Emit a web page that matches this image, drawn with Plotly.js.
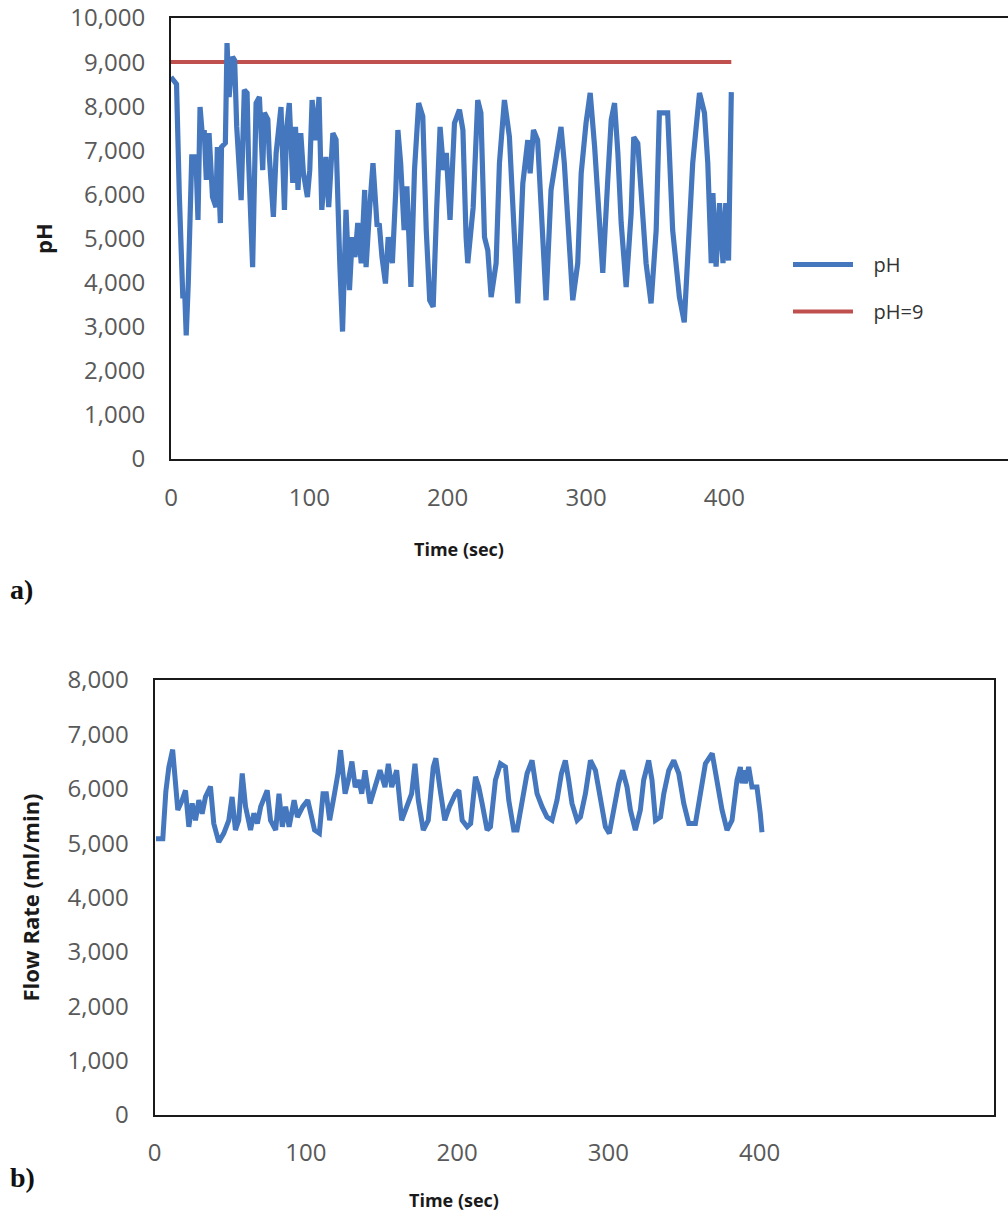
<!DOCTYPE html>
<html>
<head>
<meta charset="utf-8">
<script src="https://cdn.plot.ly/plotly-3.0.1.min.js"></script>
<style>html,body{margin:0;padding:0;background:#fff;}#chart{width:1008px;height:1222px;}</style>
</head>
<body>
<div id="chart"></div>
<script>
// ---- chart a) pH vs time ----
const phTime = [0,2.5,4,6,8.5,10,11,12.5,14,15,18,19.5,21,22.5,24,25.5,27.5,30,32.5,33.5,35.7,36.5,39.3,40.5,42,44.5,46,47.5,50.7,53,55,56,59,61.5,63.9,66.3,67.5,70,71,74,76,79.5,82,83.5,85.5,88,90,91.8,93.8,95.7,98.6,100.3,102,104.5,107,109,112,114,117,119.3,122,124,126.5,129,131,133,135,137.5,140,141,143.5,146,149,150.5,152.5,155,157,160,162.5,164,166,168.5,170.5,173.4,176,179,182,184.5,187,189.5,192,194.5,197,199,201.7,204.9,208.5,211,213.3,214.5,218.4,221.7,224,226.6,229,231.4,235,237.4,241,244.6,247,250.7,254.3,257.9,259.6,262,265,268.7,271.1,274.7,278.3,281.9,284.3,286.7,290.4,294,296.5,300,303,306.2,309.8,312.1,315.7,318.2,320.6,323,325.4,329,332.6,334.5,337.4,339.8,343.4,347,350.7,353,359,362.6,367.5,371,373.5,377.1,382,385.6,388,390.5,391.7,394,396.5,399,401,403,405];
const phValue = [8660,8550,8500,6000,3700,3700,2800,4000,6500,6850,6850,5420,7980,7400,7460,6330,7390,5940,5710,7075,5350,7075,7165,9430,8210,9120,9040,7530,5870,8370,8300,6850,4350,8070,8210,6550,7850,7700,6900,5490,6940,7980,5650,7460,8070,6260,7530,6100,7390,6485,5940,6550,8140,7230,8210,5650,6850,5710,7390,7240,4440,2890,5650,3830,5030,4580,5350,4440,6100,4350,5650,6710,5270,5340,4580,3980,5030,4440,6100,7460,6710,5190,6180,3900,6550,8070,7770,5190,3600,3450,5650,7530,6550,6940,5420,7620,7920,7460,5030,4440,5700,8140,7850,5030,4730,3670,4440,6710,8140,7310,5800,3530,6250,7230,6480,7460,7230,4810,3600,6100,6850,7530,6710,5500,3600,4440,6480,7620,8300,7080,5190,4220,6330,7690,8070,6940,5350,3900,5570,7300,7160,5950,4440,3530,5190,7850,7850,5190,3670,3100,4440,6710,8300,7850,6710,4440,6030,4360,5800,4440,5800,4500,8320];
const limitTime = [0, 405];
const limitValue = [9000, 9000];
const seriesNames = ["pH", "pH=9"];

// ---- chart b) flow rate vs time ----
const flowTime = [1,5.5,7.5,9.5,12,14,15.4,18.3,20.5,22.7,24.9,27.1,29.3,31.5,33.7,37,39.2,42.5,45.8,49.1,51.3,53.5,55.7,58,60.2,63.5,65.7,68,70.2,74.5,76.7,80.1,82.3,84.5,86.7,89,92.3,94.5,98,101.3,105.8,109,111.4,113.6,115.8,119,121.3,123,126,128.2,130.5,132.7,135,137,139.2,142.5,145.8,149.1,152.4,154.6,156.8,160.1,163.4,166.7,170,172.2,174.4,177.7,181,184.3,186,188.6,191.9,195,198.3,199,201.2,203.4,206.7,209,212.2,214.4,216.6,219.9,222.1,225.4,228.7,232,234.2,237.5,239.7,243,246.3,249.6,252.9,256.2,259.5,262.8,266.1,269,271.6,273.8,276,279.4,281.6,284.9,288.2,291.5,294.8,298.1,300.7,303.6,306.9,309.5,312.4,314.6,317.9,321.2,323.4,326.7,328.9,331.2,334.5,336.7,340,343.3,346.6,349.9,353.2,357.6,360.9,364.2,368.7,370.8,375.2,378.5,381.8,385.1,387.3,388.4,389.5,390.6,392.8,395,398.3,400.5,401.6];
const flowValue = [5080,5080,5950,6400,6720,5910,5610,5790,5970,5300,5730,5420,5790,5540,5850,6040,5360,5020,5180,5420,5850,5240,5420,6280,5670,5240,5550,5360,5670,5970,5420,5240,5910,5300,5670,5300,5790,5480,5670,5790,5240,5180,5910,5910,5420,5910,6280,6710,5910,6160,6500,6030,6160,5910,6340,5730,6030,6340,6030,6460,6030,6340,5420,5670,5910,6460,5790,5240,5420,6400,6560,6030,5420,5670,5850,5910,5970,5420,5300,5360,6220,6030,5730,5240,5300,6160,6460,6400,5790,5240,5240,5790,6280,6520,5910,5670,5480,5420,5790,6280,6520,6160,5730,5420,5480,5910,6520,6340,5790,5300,5180,5610,6100,6340,6030,5610,5240,5610,6160,6520,6160,5420,5480,5910,6340,6520,6280,5730,5360,5360,5910,6460,6650,6280,5610,5240,5420,6160,6400,6100,6340,6100,6400,6030,6030,5540,5200];

const xTicks = [0, 100, 200, 300, 400];
const yTicksA = [0,1000,2000,3000,4000,5000,6000,7000,8000,9000,10000];
const yTicksB = [0,1000,2000,3000,4000,5000,6000,7000,8000];

const W = 1008, H = 1222;
const px = v => v / W;
const py = v => 1 - v / H;

const BLUE = '#4477BE';
const RED = '#C0504D';
const TICKFONT = {family: 'Open Sans, sans-serif', size: 24, color: '#595959'};
const PAD = '\u00a0\u00a0\u00a0';

const traces = [
  {x: limitTime, y: limitValue, type: 'scatter', mode: 'lines', name: PAD + seriesNames[1],
   line: {color: RED, width: 4}, xaxis: 'x', yaxis: 'y', legendrank: 2, legendgroup: 'g2'},
  {x: phTime, y: phValue, type: 'scatter', mode: 'lines', name: PAD + seriesNames[0],
   line: {color: BLUE, width: 5.2}, xaxis: 'x', yaxis: 'y', legendrank: 1, legendgroup: 'g1'},
  {x: flowTime, y: flowValue, type: 'scatter', mode: 'lines', name: 'Flow Rate',
   line: {color: BLUE, width: 5}, xaxis: 'x2', yaxis: 'y2', showlegend: false}
];

const axisCommon = {
  showgrid: false, zeroline: false, showline: true, linecolor: '#1a1a1a', linewidth: 2,
  ticks: 'outside', tickcolor: 'rgba(0,0,0,0)', tickfont: TICKFONT, automargin: false,
  fixedrange: true
};

const layout = {
  width: W, height: H, autosize: false,
  margin: {l: 0, r: 0, t: 0, b: 0, pad: 0},
  paper_bgcolor: '#fff', plot_bgcolor: '#fff',
  font: {family: 'Open Sans, sans-serif', color: '#262626'},
  showlegend: true,
  legend: {
    x: px(788), y: py(245), xanchor: 'left', yanchor: 'top',
    font: {family: 'Open Sans, sans-serif', size: 20, color: '#333'},
    bgcolor: 'rgba(0,0,0,0)', borderwidth: 0,
    traceorder: 'grouped', tracegroupgap: 18, itemwidth: 60
  },
  xaxis: Object.assign({}, axisCommon, {
    domain: [px(171), 1], range: [0, 605], tickvals: xTicks, ticktext: xTicks.map(String),
    ticklen: 16, mirror: true, anchor: 'y'
  }),
  yaxis: Object.assign({}, axisCommon, {
    domain: [py(459), py(18)], range: [0, 10000], tickvals: yTicksA, tickformat: ',d',
    ticklen: 19, anchor: 'x',
    title: {text: '<b>pH</b>', standoff: 12, font: {family: 'Open Sans, sans-serif', size: 22, color: '#1a1a1a'}}
  }),
  xaxis2: Object.assign({}, axisCommon, {
    domain: [px(154.5), px(994)], range: [0, 555], tickvals: xTicks, ticktext: xTicks.map(String),
    ticklen: 15, mirror: true, anchor: 'y2'
  }),
  yaxis2: Object.assign({}, axisCommon, {
    domain: [py(1115), py(680)], range: [0, 8000], tickvals: yTicksB, tickformat: ',d',
    ticklen: 19, mirror: true, anchor: 'x2',
    title: {text: '<b>Flow Rate (ml/min)</b>', standoff: 22, font: {family: 'Open Sans, sans-serif', size: 22, color: '#1a1a1a'}}
  }),
  annotations: [
    {text: '<b>Time (sec)</b>', xref: 'paper', yref: 'paper', x: px(459), y: py(549),
     xanchor: 'center', yanchor: 'middle', showarrow: false,
     font: {family: 'Open Sans, sans-serif', size: 18, color: '#1a1a1a'}},
    {text: '<b>Time (sec)</b>', xref: 'paper', yref: 'paper', x: px(454), y: py(1200),
     xanchor: 'center', yanchor: 'middle', showarrow: false,
     font: {family: 'Open Sans, sans-serif', size: 18, color: '#1a1a1a'}},
    {text: '<b>a)</b>', xref: 'paper', yref: 'paper', x: px(8), y: py(589),
     xanchor: 'left', yanchor: 'middle', showarrow: false,
     font: {family: 'Liberation Serif, serif', size: 28, color: '#111'}},
    {text: '<b>b)</b>', xref: 'paper', yref: 'paper', x: px(8), y: py(1177),
     xanchor: 'left', yanchor: 'middle', showarrow: false,
     font: {family: 'Liberation Serif, serif', size: 28, color: '#111'}}
  ]
};

Plotly.newPlot('chart', traces, layout, {staticPlot: true, displayModeBar: false});
</script>
</body>
</html>
